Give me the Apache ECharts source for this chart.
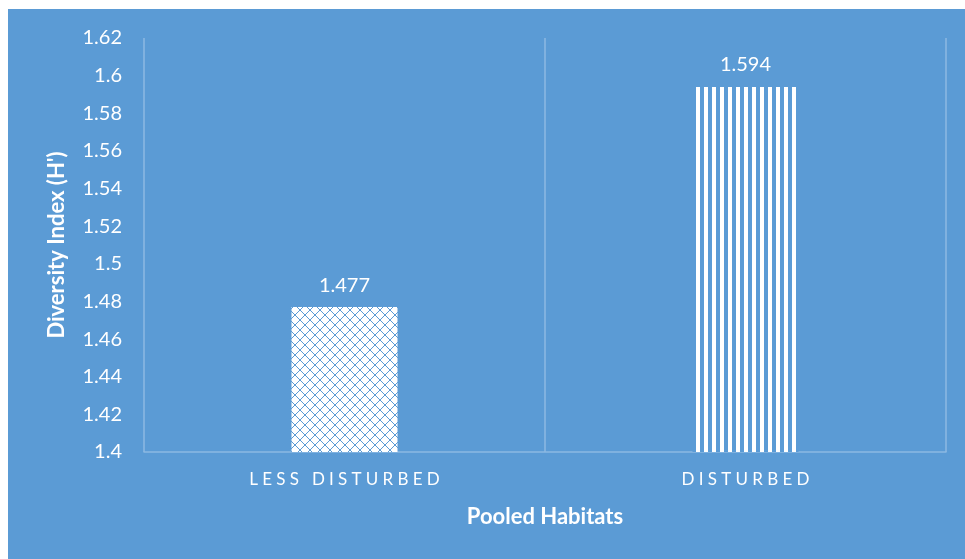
<!DOCTYPE html>
<html>
<head>
<meta charset="utf-8">
<script src="https://cdn.jsdelivr.net/npm/echarts@6/dist/echarts.min.js"></script>
<style>
  html, body { margin: 0; padding: 0; background: #fff; }
  #chart { width: 965px; height: 559px; }
</style>
</head>
<body>
<div id="chart"></div>
<script>
var habitats = ['LESS DISTURBED', 'DISTURBED'];
var diversity = [1.477, 1.594];
var yTicks = { min: 1.4, max: 1.62, step: 0.02 };

var bg = '#5B9BD5';
var gridColor = '#8CB9E2';

// crosshatch (diamond) pattern for the first bar
function makeDiamond() {
  var n = 10;
  var c = document.createElement('canvas');
  c.width = n; c.height = n;
  var ctx = c.getContext('2d');
  ctx.fillStyle = '#fff';
  ctx.fillRect(0, 0, n, n);
  ctx.fillStyle = bg;
  for (var i = 0; i < n; i++) {
    ctx.fillRect(i, i, 1, 1);
    ctx.fillRect(n - 1 - i, i, 1, 1);
  }
  return c;
}

// vertical stripes for the second bar
function makeStripes() {
  var c = document.createElement('canvas');
  c.width = 8; c.height = 8;
  var ctx = c.getContext('2d');
  ctx.fillStyle = bg;
  ctx.fillRect(0, 0, 8, 8);
  ctx.fillStyle = '#fff';
  ctx.fillRect(0, 0, 4, 8);
  return c;
}

var patterns = [makeDiamond(), makeStripes()];

// wide letter spacing like the original axis labels
function spread(s) {
  return s.split('').join('\u2005');
}

var chart = echarts.init(document.getElementById('chart'));
var option = {
  backgroundColor: '#fff',
  animation: false,
  textStyle: { fontFamily: 'Lato, "Open Sans", sans-serif' },
  graphic: [{
    type: 'rect',
    left: 8, top: 9,
    shape: { width: 957, height: 550 },
    style: { fill: bg },
    z: -10
  }],
  grid: { left: 144, right: 19, top: 38, bottom: 107 },
  xAxis: {
    type: 'category',
    data: habitats,
    name: 'Pooled Habitats',
    nameLocation: 'middle',
    nameGap: 54,
    nameTextStyle: { color: '#fff', fontSize: 22, fontWeight: 'bold' },
    axisLine: { lineStyle: { color: gridColor, width: 1.5 } },
    axisTick: { show: false },
    splitLine: { show: true, lineStyle: { color: gridColor, width: 1.5 } },
    axisLabel: {
      color: '#fff', fontSize: 17, margin: 19,
      formatter: function (v) { return spread(v); }
    }
  },
  yAxis: {
    type: 'value',
    min: yTicks.min,
    max: yTicks.max,
    interval: yTicks.step,
    name: "Diversity Index (H')",
    nameLocation: 'middle',
    nameGap: 76,
    nameRotate: 90,
    nameTextStyle: { color: '#fff', fontSize: 22, fontWeight: 'bold' },
    axisLine: { show: false },
    axisTick: { show: false },
    splitLine: { show: false },
    axisLabel: {
      color: '#fff', fontSize: 20, margin: 22,
      formatter: function (v) { return String(+v.toFixed(2)); }
    }
  },
  series: [{
    type: 'bar',
    barWidth: 106,
    data: diversity.map(function (v, i) {
      return { value: v, itemStyle: { color: { image: patterns[i], repeat: 'repeat' } } };
    }),
    label: {
      show: true, position: 'top', distance: 12,
      color: '#fff', fontSize: 20,
      formatter: function (p) { return p.value.toFixed(3); }
    }
  }]
};
chart.setOption(option);
</script>
</body>
</html>
